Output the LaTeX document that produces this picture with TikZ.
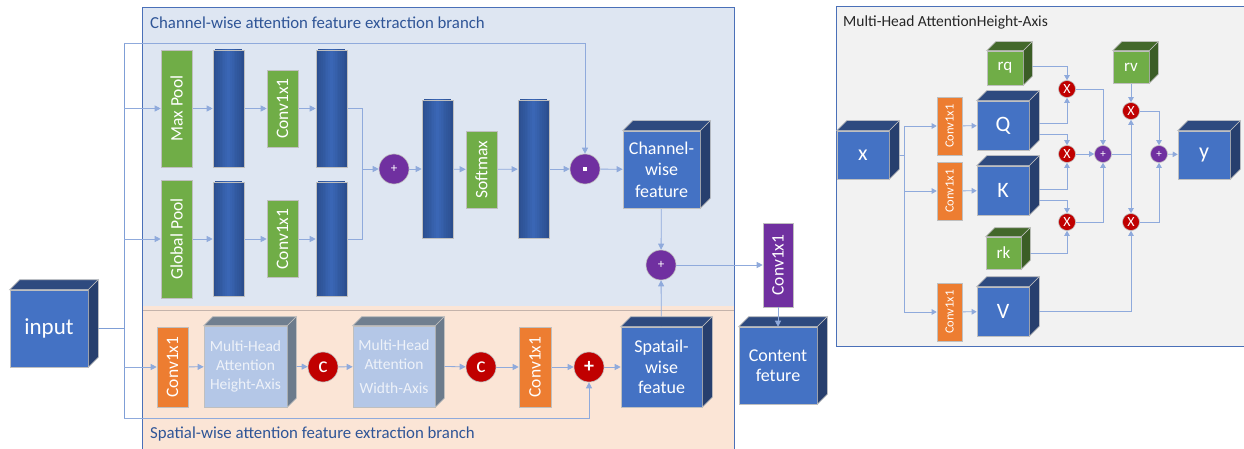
\documentclass[tikz,border=0pt]{standalone}
\usepackage{fontspec}
\setmainfont{Carlito}
\usetikzlibrary{arrows.meta,calc}
\definecolor{lineblue}{HTML}{8FAADC}
\definecolor{trunkblue}{HTML}{7F9ED6}
\definecolor{edgegray}{HTML}{BFBFBF}
\definecolor{cblue}{HTML}{4472C4}
\definecolor{ctop}{HTML}{2E4A7F}
\definecolor{cside}{HTML}{273F6E}
\definecolor{barEdge}{HTML}{2B4E8E}
\definecolor{barMid}{HTML}{3A66B5}
\definecolor{cgreen}{HTML}{70AD47}
\definecolor{dgreen}{HTML}{43682B}
\definecolor{dgreenS}{HTML}{3B5D26}
\definecolor{corange}{HTML}{ED7D31}
\definecolor{cpurple}{HTML}{7030A0}
\definecolor{cred}{HTML}{C00000}
\definecolor{mhaBlue}{HTML}{B4C7E7}
\definecolor{mhaSide}{HTML}{6C7B8C}
\definecolor{mhaTop}{HTML}{707F90}
\definecolor{mhaText}{HTML}{EEF2F9}
\definecolor{panelBlue}{HTML}{DEE6F2}
\definecolor{panelBorder}{HTML}{4A70B8}
\definecolor{peach}{HTML}{FBE5D6}
\definecolor{sepgray}{HTML}{C4B3AB}
\definecolor{panelGray}{HTML}{F2F2F2}
\definecolor{titleBlue}{HTML}{2F5597}
\pgfdeclarelayer{panel}
\pgfdeclarelayer{lines}
\pgfsetlayers{panel,lines,main}
\newcommand\fsz[2]{\fontsize{#1}{#2}\selectfont}
\newcommand\cubefaces[4]{%
  \filldraw[draw=edgegray,line width=0.6pt,fill=#3] (#1.north west) -- ++(#2,-#2) -- ($(#1.north east)+(#2,-#2)$) -- (#1.north east) -- cycle;
  \filldraw[draw=edgegray,line width=0.6pt,fill=#4] (#1.north east) -- ++(#2,-#2) -- ($(#1.south east)+(#2,-#2)$) -- (#1.south east) -- cycle;
}
\begin{document}
\begin{tikzpicture}[x=1pt,y=-1pt,
  box/.style={draw=edgegray,line width=0.6pt,inner sep=0pt},
  greenbox/.style={box,fill=cgreen},
  orangebox/.style={box,fill=corange},
  purplebox/.style={box,fill=cpurple},
  barbox/.style={box,fill=barEdge,path picture={
    \foreach \k in {1,...,8} {
      \pgfmathsetmacro\ww{31*(9-\k)/9}
      \pgfmathtruncatemacro\cc{100*\k/8}
      \fill[barMid!\cc!barEdge] ($(path picture bounding box.center)+(-\ww/2,-100)$) rectangle ($(path picture bounding box.center)+(\ww/2,100)$);
    }}},
  cubef/.style={box,fill=cblue,text=white,align=center},
  mhaf/.style={box,fill=mhaBlue,text=mhaText,align=center,font=\fsz{15.5}{19}},
  rtxt/.style={rotate=90,text=white,font=\fsz{17.5}{19}},
  rtxts/.style={rotate=90,text=white,font=\fsz{12.5}{14}},
  circ/.style={circle,draw=edgegray,line width=0.6pt,minimum size=30pt,inner sep=0pt,text=white},
  scirc/.style={circle,draw=edgegray,line width=0.6pt,minimum size=17pt,inner sep=0pt,text=white},
  ln/.style={draw=lineblue,line width=0.8pt},
  arr/.style={draw=lineblue,line width=0.8pt,-{Triangle[length=6pt,width=6pt]}},
  sarr/.style={draw=lineblue,line width=0.8pt,-{Triangle[length=5pt,width=5.5pt]}},
]
\useasboundingbox (0,0) rectangle (1244,449);

% panels
\begin{pgfonlayer}{panel}
\fill[white] (0,0) rectangle (1244,449);
\filldraw[fill=panelBlue,draw=panelBorder,line width=0.8pt] (142,7) rectangle (734,306);
\fill[peach] (142,306.4) rectangle (734,449);
\draw[sepgray,line width=0.9pt] (142.5,310) -- (733.5,310);
\draw[panelBorder,line width=0.8pt] (142,306) -- (142,449);
\draw[panelBorder,line width=0.8pt] (734,306) -- (734,449);
\filldraw[fill=panelGray,draw=panelBorder,line width=0.8pt] (836,6) rectangle (1250,346);
\end{pgfonlayer}

\node[anchor=west,inner sep=0pt,text=titleBlue,font=\fsz{16.8}{18}] (t1) at (150,23) {Channel-wise attention feature extraction branch};
\node[anchor=west,inner sep=0pt,text=titleBlue,font=\fsz{16.8}{18}] (t2) at (150,434) {Spatial-wise attention feature extraction branch};
\node[anchor=west,inner sep=0pt,text=black!85,font=\fsz{15.5}{18}] (t3) at (843,22) {Multi-Head AttentionHeight-Axis};

% ---------- left part nodes ----------
\node[cubef,minimum width=78pt,minimum height=77pt,font=\fsz{23}{25}] (in) at (49,328.5) {input};
\node[greenbox,minimum width=31pt,minimum height=117pt,label={[rtxt]center:Max Pool}] (maxpool) at (176.5,108.5) {};
\node[barbox,minimum width=31pt,minimum height=117pt] (bar1) at (228.5,108.5) {};
\node[greenbox,minimum width=31pt,minimum height=77pt,label={[rtxt]center:Conv1x1}] (conv1) at (282.5,108.5) {};
\node[barbox,minimum width=31pt,minimum height=117pt] (bar2) at (331.5,108.5) {};
\node[greenbox,minimum width=31pt,minimum height=118pt,label={[rtxt]center:Global Pool}] (gpool) at (176.5,239) {};
\node[barbox,minimum width=31pt,minimum height=114pt] (bar3) at (228.5,239) {};
\node[greenbox,minimum width=31pt,minimum height=77pt,label={[rtxt]center:Conv1x1}] (conv2) at (282.5,239) {};
\node[barbox,minimum width=31pt,minimum height=114pt] (bar4) at (331.5,239) {};
\node[circ,fill=cpurple,font=\fsz{13}{14}] (plus1) at (394,169) {+};
\node[barbox,minimum width=31pt,minimum height=138pt] (bar5) at (437.5,169) {};
\node[greenbox,minimum width=31pt,minimum height=77pt,label={[rtxt]center:Softmax}] (softmax) at (481.5,169.5) {};
\node[barbox,minimum width=31pt,minimum height=138pt] (bar6) at (533.5,169) {};
\node[circ,fill=cpurple] (dot) at (585,169) {\rule{4pt}{4pt}};
\node[cubef,minimum width=77pt,minimum height=77pt,font=\fsz{18}{21.5}] (chfeat) at (661.5,169.5) {Channel-\\wise\\feature};
\node[circ,fill=cpurple,font=\fsz{13}{14}] (plus2) at (661,265) {+};
\node[purplebox,minimum width=30pt,minimum height=84pt,label={[rtxt]center:Conv1x1}] (convP) at (778,265) {};
\node[cubef,minimum width=78pt,minimum height=77pt,font=\fsz{18}{20.5}] (content) at (778,365.5) {Content\\feture};
\node[cubef,minimum width=81pt,minimum height=80pt,font=\fsz{18}{20.5}] (spfeat) at (661.5,367) {Spatail-\\wise\\featue};
\node[orangebox,minimum width=31pt,minimum height=80pt,label={[rtxt]center:Conv1x1}] (convA) at (172.5,367) {};
\node[mhaf,minimum width=83pt,minimum height=81pt] (mhaH) at (245.5,366.5) {Multi-Head\\Attention\\Height-Axis};
\node[circ,fill=cred,font=\fsz{22}{22}] (cA) at (323,367) {c};
\node[mhaf,minimum width=82pt,minimum height=81pt] (mhaW) at (394,366.5) {Multi-Head\\Attention\\[5pt]Width-Axis};
\node[circ,fill=cred,font=\fsz{22}{22}] (cB) at (481,367) {c};
\node[orangebox,minimum width=32pt,minimum height=80pt,label={[rtxt]center:Conv1x1}] (convB) at (535,367) {};
\node[circ,fill=cred,font=\bfseries\fsz{20}{20}] (plusR) at (589,367) {+};

\cubefaces{in}{10}{ctop}{cside}
\cubefaces{chfeat}{10}{ctop}{cside}
\cubefaces{content}{10}{ctop}{cside}
\cubefaces{spfeat}{10}{ctop}{cside}
\cubefaces{mhaH}{9}{mhaTop}{mhaSide}
\cubefaces{mhaW}{9}{mhaTop}{mhaSide}

% ---------- right panel nodes ----------
\node[cubef,minimum width=52pt,minimum height=48pt,font=\fsz{22}{24}] (xc) at (863,155) {x};
\node[orangebox,minimum width=25pt,minimum height=58pt,label={[rtxts]center:Conv1x1}] (convQ) at (949.5,126) {};
\node[orangebox,minimum width=25pt,minimum height=58pt,label={[rtxts]center:Conv1x1}] (convK) at (949.5,191) {};
\node[orangebox,minimum width=25pt,minimum height=58pt,label={[rtxts]center:Conv1x1}] (convV) at (949.5,312) {};
\node[cubef,minimum width=52pt,minimum height=49pt,font=\fsz{22}{24}] (Q) at (1003,125.5) {Q};
\node[cubef,minimum width=52pt,minimum height=49pt,font=\fsz{22}{24}] (K) at (1003,190.5) {K};
\node[cubef,minimum width=52pt,minimum height=49pt,font=\fsz{22}{24}] (V) at (1003,311.5) {V};
\node[greenbox,minimum width=36pt,minimum height=34pt,text=white,font=\fsz{17}{18}] (rq) at (1005,68) {rq};
\node[greenbox,minimum width=35pt,minimum height=32pt,text=white,font=\fsz{17}{18}] (rk) at (1003.5,253) {rk};
\node[greenbox,minimum width=36pt,minimum height=32pt,text=white,font=\fsz{17}{18}] (rv) at (1131,67) {rv};
\node[cubef,minimum width=52pt,minimum height=48pt,font=\fsz{22}{24}] (yc) at (1204,155) {y};
\node[scirc,fill=cred,font=\fsz{14}{15}] (X1) at (1067,89) {X};
\node[scirc,fill=cred,font=\fsz{14}{15}] (X2) at (1067,154) {X};
\node[scirc,fill=cred,font=\fsz{14}{15}] (X3) at (1067,222) {X};
\node[scirc,fill=cred,font=\fsz{14}{15}] (X4) at (1131,111) {X};
\node[scirc,fill=cred,font=\fsz{14}{15}] (X5) at (1131,222) {X};
\node[scirc,fill=cpurple,font=\fsz{11}{12}] (P1) at (1103,154) {+};
\node[scirc,fill=cpurple,font=\fsz{11}{12}] (P2) at (1159,154) {+};

\cubefaces{xc}{10}{ctop}{cside}
\cubefaces{Q}{10}{ctop}{cside}
\cubefaces{K}{10}{ctop}{cside}
\cubefaces{V}{10}{ctop}{cside}
\cubefaces{yc}{10}{ctop}{cside}
\cubefaces{rq}{9}{dgreen}{dgreenS}
\cubefaces{rk}{9}{dgreen}{dgreenS}
\cubefaces{rv}{9}{dgreen}{dgreenS}

% ---------- connectors ----------
\begin{pgfonlayer}{lines}
\coordinate (tTop) at (124,43);
\coordinate (tBot) at (124,418);
\coordinate (j1) at (362,169);
\draw[trunkblue,line width=0.9pt] (in.east) -- (in -| tTop);
\draw[trunkblue,line width=0.9pt] (tTop) -- (tBot);
\draw[arr] (tTop) -| (dot);
\draw[arr] (maxpool -| tTop) -- (maxpool);
\draw[arr] (gpool -| tTop) -- (gpool);
\draw[arr] (convA -| tTop) -- (convA);
\draw[arr] (tBot) -| (plusR);
\draw[arr] (maxpool) -- (bar1);
\draw[arr] (bar1) -- (conv1);
\draw[arr] (conv1) -- (bar2);
\draw[arr] (gpool) -- (bar3);
\draw[arr] (bar3) -- (conv2);
\draw[arr] (conv2) -- (bar4);
\draw[ln] (bar2) -| (j1);
\draw[ln] (bar4) -| (j1);
\draw[arr] (j1) -- (plus1);
\draw[arr] (plus1) -- (bar5);
\draw[arr] (bar5) -- (softmax);
\draw[arr] (softmax) -- (bar6);
\draw[arr] (bar6) -- (dot);
\draw[arr] (dot) -- (chfeat);
\draw[arr] (chfeat) -- (plus2);
\draw[arr] (spfeat) -- (plus2);
\draw[arr] (plus2) -- (convP);
\draw[arr] (convA) -- (mhaH);
\draw[arr] (mhaH.east) ++(9,0) -- (cA);
\draw[arr] (cA) -- (mhaW);
\draw[arr] (mhaW.east) ++(9,0) -- (cB);
\draw[arr] (cB) -- (convB);
\draw[arr] (convB) -- (plusR);
\draw[arr] (plusR) -- (spfeat);
% right panel
\coordinate (j3) at (904,155);
\coordinate (jq) at (904,126);
\coordinate (jk) at (904,191);
\coordinate (jv) at (904,312);
\coordinate (j2) at (1131,154);
\draw[ln] (xc) -- (j3);
\draw[ln] (jq) -- (jv);
\draw[sarr] (jq) -- (convQ);
\draw[sarr] (jk) -- (convK);
\draw[sarr] (jv) -- (convV);
\draw[sarr] (convQ) -- (Q);
\draw[sarr] (convK) -- (K);
\draw[sarr] (convV) -- (V);
\draw[sarr] ($(rq.east)+(0,-2)$) -| (X1);
\draw[sarr] ($(Q.east)+(0,-2.5)$) -| (X1);
\draw[sarr] ($(Q.east)+(0,8.5)$) -| (X2);
\draw[sarr] ($(K.east)+(0,-1.5)$) -| (X2);
\draw[sarr] ($(K.east)+(0,9.5)$) -| (X3);
\draw[sarr] (rk.east) -| (X3);
\draw[sarr] (X1) -| (P1);
\draw[sarr] (X2) -- (P1);
\draw[sarr] (X3) -| (P1);
\draw[ln] (P1) -- (j2);
\draw[sarr] (j2) -- (X4);
\draw[sarr] (j2) -- (X5);
\draw[sarr] (rv) -- (X4);
\draw[sarr] (V.east) -| (X5);
\draw[sarr] (X4) -| (P2);
\draw[sarr] (X5) -| (P2);
\draw[sarr] (P2) -- (yc);
\end{pgfonlayer}
\draw[arr] (convP) -- (content);
\end{tikzpicture}
\end{document}
